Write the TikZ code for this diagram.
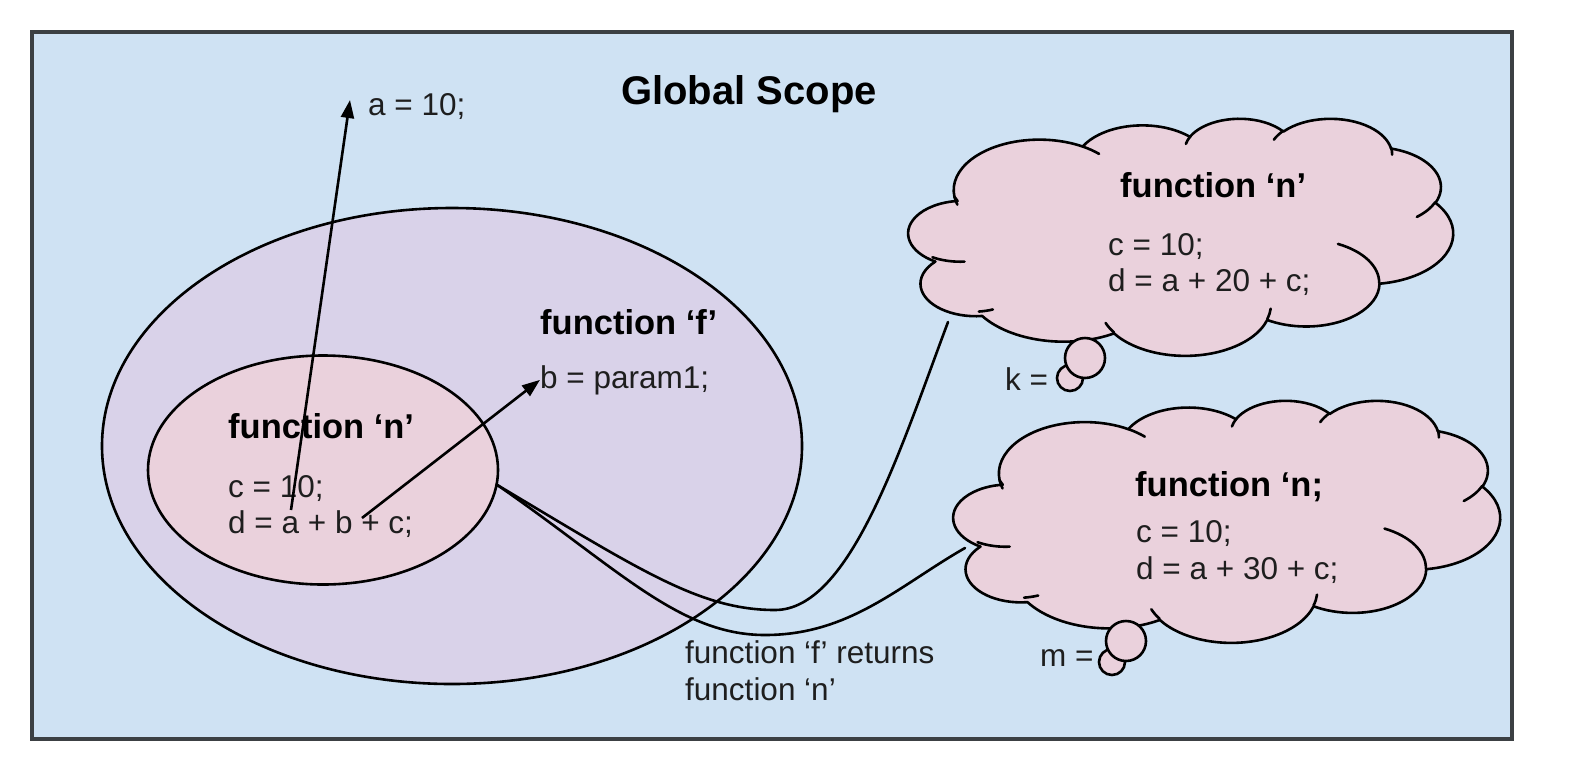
\documentclass[tikz,border=0pt]{standalone}
\usepackage{fontspec}
\setmainfont{Liberation Sans}
\usetikzlibrary{shapes.geometric,arrows.meta}
\definecolor{bgblue}{HTML}{CFE2F3}
\definecolor{lav}{HTML}{D9D2E9}
\definecolor{pinkf}{HTML}{EAD1DC}
\definecolor{framec}{HTML}{3C4043}
\definecolor{txt}{HTML}{1E1E1E}
% arc of an ellipse given by visual start angle and sweep (degrees)
\newcommand\carc[4]{arc[x radius=#1, y radius=#2, start angle={vp(#3,#1,#2)}, end angle={vp(#3+#4,#1,#2)}]}
\newcommand\cloudshape[5]{% name, left, top, xunit, yunit
  \begin{scope}[shift={(#2,#3)}, x=#4, y=#5]
  \draw[cl] (39.00,143.70) \carc{67.53}{91.90}{-190.4875}{123.7805}
     \carc{53.33}{72.67}{-144.1024}{89.9452}
     \carc{43.65}{59.45}{-145.8079}{99.7230}
     \carc{48.57}{65.95}{-130.9861}{117.2417}
     \carc{53.33}{72.73}{-78.7089}{109.0269}
     \carc{67.75}{92.20}{-46.2673}{130.2690}
     \carc{57.85}{78.67}{0.6250}{114.0333}
     \carc{67.52}{92.15}{22.4516}{115.1726}
     \carc{77.20}{105.43}{66.2426}{71.3636}
     \carc{43.60}{59.18}{-274.9421}{146.7356}
     \carc{43.45}{59.45}{-246.8285}{152.5189} -- cycle;
  \draw[ln] (46.93,261.77) \carc{43.45}{59.45}{86.742}{26.4295};
  \draw[ln] (69.28,348.99) \carc{43.60}{59.18}{73.6105}{11.4475};
  \draw[ln] (164.78,390.90) \carc{67.52}{92.15}{137.6242}{14.0811};
  \draw[ln] (288.27,347.51) \carc{67.52}{92.15}{6.4533}{15.9984};
  \draw[ln] (341.29,229.54) \carc{57.85}{78.67}{-70.2924}{70.9174};
  \draw[ln] (417.98,153.54) \carc{53.33}{72.73}{30.318}{27.7515};
  \draw[ln] (383.24,54.26) \carc{48.57}{65.95}{-13.7443}{14.8538};
  \draw[ln] (290.78,39.52) \carc{48.57}{65.95}{-149.1815}{18.1906};
  \draw[ln] (221.41,47.20) \carc{43.65}{59.45}{-163.4943}{17.6887};
  \draw[ln] (140.00,51.92) \carc{67.53}{91.90}{-66.7070}{12.3194};
  \draw[ln] (41.27,157.89) \carc{67.53}{91.90}{157.6544}{11.8582};
  \coordinate (#1) at (216,216);
  \end{scope}}
\begin{document}
\begin{tikzpicture}[x=1pt,y=-1pt,
  declare function={vp(\a,\w,\h)=\a+(atan2(\w*sin(\a),\h*cos(\a))-\a)-360*round((atan2(\w*sin(\a),\h*cos(\a))-\a)/360);},
  ln/.style={line width=2.6pt, draw=black, line cap=round},
  cl/.style={line width=2.6pt, draw=black, fill=pinkf, line join=round},
  txtr/.style={anchor=base west, inner sep=0pt, font=\fontsize{31.5}{36}\selectfont, text=txt},
  txtb/.style={anchor=base west, inner sep=0pt, font=\fontsize{34.5}{40}\selectfont\bfseries, text=black},
  arr/.style={ln, line cap=butt, -{Triangle[length=18pt,width=13pt]}},
  bub/.style={circle, draw=black, fill=pinkf, line width=2.6pt, inner sep=0pt},
  ell/.style={ellipse, draw=black, line width=2.6pt, inner sep=0pt}
]
\useasboundingbox (0,0) rectangle (1570,756);
\fill[white] (0,0) rectangle (1570,756);
\node[draw=framec, fill=bgblue, line width=3.5pt, minimum width=1480pt, minimum height=707pt, inner sep=0pt, anchor=north west] (frame) at (30,30) {};

\node[txtb, font=\fontsize{40}{46}\selectfont\bfseries] (title) at (621,104) {Global Scope};

% ellipses
\node[ell, fill=lav, minimum width=700pt, minimum height=476pt] (fe) at (452,446) {};
\node[ell, fill=pinkf, minimum width=350pt, minimum height=229pt] (ne) at (323,470) {};

% clouds
\cloudshape{c1}{905}{118}{1.26852pt}{-0.548611pt}
\cloudshape{c2}{950}{400}{1.27315pt}{-0.560185pt}

% thought bubbles
\node[bub, minimum size=26pt] (k2) at (1070,378) {};
\node[bub, minimum size=40pt] (k1) at (1085,358) {};
\node[bub, minimum size=26pt] (m2) at (1112,662) {};
\node[bub, minimum size=40pt] (m1) at (1126,641) {};

% texts
\node[txtr, inner xsep=18pt, anchor=base west] (a10) at (350,115) {a = 10;};
\node[txtb] (ff) at (540,334) {function ‘f’};
\node[txtr] (bp) at (540,388) {b = param1;};
\node[txtb] (fn) at (228,438) {function ‘n’};
\node[txtr] (nc) at (228,497) {c = 10;};
\node[txtr] (nd) at (228,533) {d = a + b + c;};

\node[txtb] (c1t) at (1120,197) {function ‘n’};
\node[txtr] (c1c) at (1108,255) {c = 10;};
\node[txtr] (c1d) at (1108,291) {d = a + 20 + c;};
\node[txtb] (c2t) at (1135,496) {function ‘n;};
\node[txtr] (c2c) at (1136,542) {c = 10;};
\node[txtr] (c2d) at (1136,579) {d = a + 30 + c;};

\node[txtr] (k) at (1005,390) {k =};
\node[txtr] (m) at (1040,666) {m =};

\node[txtr] (r1) at (685,663) {function ‘f’ returns};
\node[txtr] (r2) at (685,700) {function ‘n’};

% arrows
\coordinate (s1) at (291,510);
\coordinate (s2) at (362,518);
\draw[arr] (s1) -- ([yshift=6pt]a10.west);
\draw[arr] (s2) -- (bp.west);

% return curves
\coordinate (e1) at (948,322);
\coordinate (e2) at (965,548);
\draw[ln] (ne.-5) .. controls (640,570) and (700,610) .. (775,610) .. controls (850,610) and (900,450) .. (e1);
\draw[ln] (ne.-5) .. controls (620,570) and (680,635) .. (765,635) .. controls (850,635) and (900,585) .. (e2);
\end{tikzpicture}
\end{document}
